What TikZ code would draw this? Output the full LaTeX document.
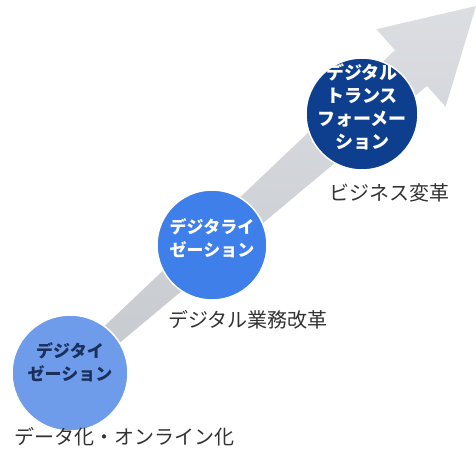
\documentclass[tikz,border=0pt]{standalone}
\usepackage{fontspec}
\newfontfamily\jp{Noto Sans CJK JP}
\definecolor{arrowgray}{HTML}{D2D5DA}
\definecolor{arrowgraydark}{HTML}{C6C9CE}
\definecolor{blueA}{HTML}{6E9BEA}
\definecolor{blueB}{HTML}{3F7FEA}
\definecolor{blueC}{HTML}{0E3F8E}
\definecolor{navytext}{HTML}{1A2F5A}
\definecolor{labeltext}{HTML}{333333}
\tikzset{
  stage/.style={circle, draw=white, line width=1.5pt, inner sep=0pt},
  stagetext/.style={font=\jp\bfseries\fontsize{17}{23}\selectfont, align=center, inner sep=0pt},
  bigstagetext/.style={font=\jp\bfseries\fontsize{18}{23}\selectfont, align=center, inner sep=0pt},
  steplabel/.style={font=\jp\fontsize{20}{24}\selectfont, text=labeltext, inner sep=0pt},
}
\begin{document}
\begin{tikzpicture}[x=1pt, y=-1pt]
\useasboundingbox (0,0) rectangle (476,459);
% rising arrow
\shade[left color=arrowgray!80, right color=arrowgraydark, shading angle=0]
  (63.7,364.9) -- (395,50.1) -- (376.4,29.2) -- (476,6) -- (445.6,106.8)
  -- (427,85.9) -- (76.3,379.1) -- cycle;
% stages
\node[stage, fill=blueA, minimum size=116pt] (c1) at (70,373) {};
\node[stage, fill=blueB, minimum size=110pt] (c2) at (212,245) {};
\node[stage, fill=blueC, minimum size=112pt] (c3) at (362,114) {};
\node[stagetext, text=navytext] (t1) at (70,362) {デジタイ\\ゼーション};
\node[stagetext, text=white] (t2) at (212,238) {デジタライ\\ゼーション};
\node[bigstagetext, text=white] (t3) at (362,107) {デジタル\\トランス\\フォーメー\\ション};
% labels
\node[steplabel] (l1) at (124,437) {データ化・オンライン化};
\node[steplabel] (l2) at (248,320) {デジタル業務改革};
\node[steplabel] (l3) at (389,193) {ビジネス変革};
\end{tikzpicture}
\end{document}
